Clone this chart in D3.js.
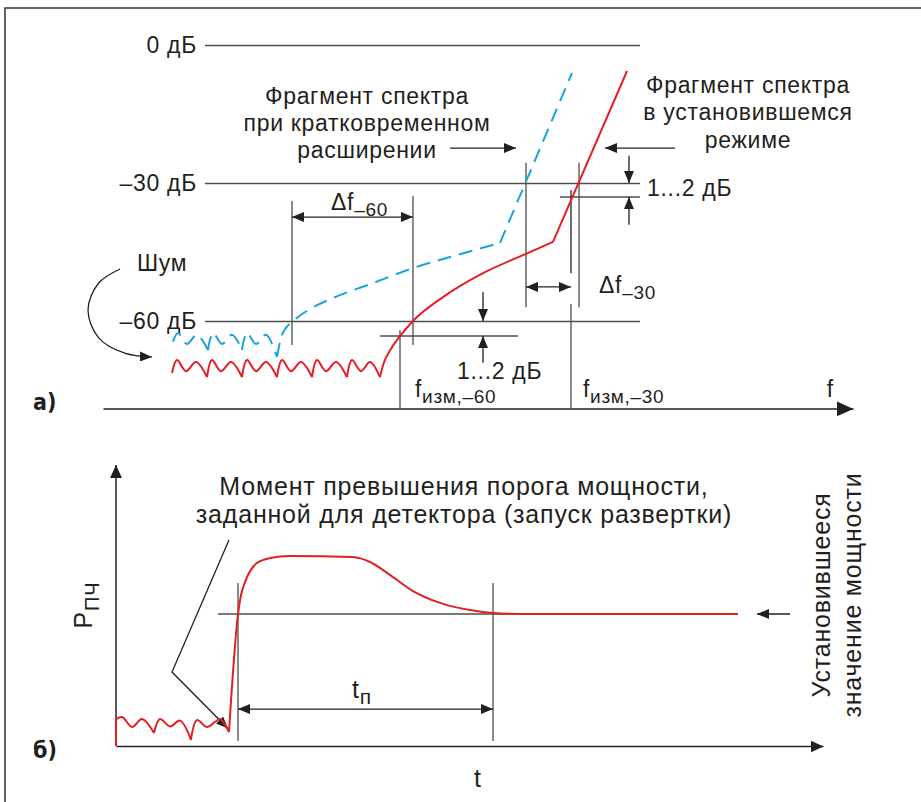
<!DOCTYPE html>
<html>
<head>
<meta charset="utf-8">
<script src="https://cdn.jsdelivr.net/npm/d3@7"></script>
<style>
  html, body { margin: 0; padding: 0; background: #fff; }
  svg { display: block; }
</style>
</head>
<body>
<script>
// ---- data: spectrum (a), units: f in arbitrary 0..100, level in dB ----
const dbLevels = [0, -30, -60];
const dbTickLabels = ['0 дБ', '–30 дБ', '–60 дБ'];

// steady-state spectrum: noise arches, smooth rise, steep slope
const redNoise = [
  [[9.2, -71.3], [9.87, -68.5], [11.07, -70.9], [12.4, -68.9], [13.87, -72.2]],
  [[13.87, -72.2], [14.53, -68.5], [15.73, -70.9], [17.07, -68.9], [18.53, -72.2]],
  [[18.53, -72.2], [19.2, -68.5], [20.4, -70.9], [21.73, -68.9], [23.2, -72.2]],
  [[23.2, -72.2], [23.87, -68.5], [25.07, -70.9], [26.4, -68.9], [27.87, -72.2]],
  [[27.87, -72.2], [28.53, -68.5], [29.73, -70.9], [31.07, -68.9], [32.53, -72.2]],
  [[32.53, -72.2], [33.2, -68.5], [34.4, -70.9], [35.6, -68.9], [36.93, -72.2]]
];
const redRise = [[36.93, -72.2], [37.4, -69.3], [38.3, -66.3], [39.6, -63.3], [41.33, -60],
  [45.33, -54.8], [50.67, -49.6], [56.4, -45.4], [60, -42.8]];
const redSlope = [[60, -42.8], [69.87, -5.65]];

// spectrum during short widening (dashed)
const blueNoise = [
  [[9.33, -64.5], [10, -62.6], [11.2, -65], [12.53, -63], [14, -66.3]],
  [[14, -66.3], [14.67, -62.6], [15.87, -65], [17.2, -63], [18.53, -66.3]],
  [[18.53, -66.3], [19.2, -62.6], [20.4, -65], [21.73, -63], [23.2, -67.8]]
];
const blueRise = [[23.2, -67.8], [23.73, -63.7], [24.4, -61.5], [25.2, -60.2], [27.6, -57.4],
  [30.67, -55], [35.6, -52], [41.33, -48.5], [46.27, -46.1], [52.93, -43.04]];
const blueSlope = [[52.93, -43.04], [62.53, -6.09]];

// ---- data: pulse (b), t 0..100, P with steady value 50 ----
const pulseNoise = [
  [[0, 0], [0, 10.2]],
  [[0, 10.2], [0.86, 11], [2.29, 7.2], [3.71, 10.2], [5.43, 4.9]],
  [[5.43, 4.9], [6.29, 10.2], [7.71, 7.4], [9.14, 9.6], [10.71, 2.3]],
  [[10.71, 2.3], [11.57, 9.8], [13, 7.2], [14.14, 9.1], [14.86, 10.2], [16.14, 5.3]]
];
const pulseResponse = [[16.14, 5.3], [17.43, 50], [17.86, 57.2], [18.43, 62.1], [20.14, 69.3],
  [22, 71.2], [24.86, 72], [33.86, 71.6], [36.29, 69.7], [39.14, 64.8], [42.43, 58.7],
  [46.29, 54.2], [50.57, 51.5], [53.86, 50.4], [59.14, 50], [88.86, 50]];
const steadyP = 50;

// ---- annotation text ----
const leftNote = ['Фрагмент спектра', 'при кратковременном', 'расширении'];
const rightNote = ['Фрагмент спектра', 'в установившемся', 'режиме'];
const triggerNote = ['Момент превышения порога мощности,', 'заданной для детектора (запуск развертки)'];
const steadyNote = ['Установившееся', 'значение мощности'];

const W = 921, H = 802;
const FONT = '"Liberation Sans", Arial, sans-serif';
const BOLD_FONT = '"Liberation Sans Narrow", "DejaVu Sans Condensed", sans-serif';
const INK = '#231f20', GUIDE = '#4d4d4d', RED = '#e31e24', BLUE = '#1ba3dd';
const SIZE_A = 23, SIZE_B = 25;

const svg = d3.select('body').append('svg')
    .attr('width', W)
    .attr('height', H)
    .attr('font-family', FONT)
    .attr('fill', INK);

const defs = svg.append('defs');
function marker(id, len, wid) {
  defs.append('marker')
      .attr('id', id)
      .attr('viewBox', '0 0 10 10')
      .attr('preserveAspectRatio', 'none')
      .attr('refX', 10).attr('refY', 5)
      .attr('markerUnits', 'userSpaceOnUse')
      .attr('markerWidth', len).attr('markerHeight', wid)
      .attr('orient', 'auto-start-reverse')
    .append('path')
      .attr('d', 'M0,0L10,5L0,10z')
      .attr('fill', INK);
}
marker('arr', 12, 10);
marker('arrMid', 13, 12);
marker('arrBig', 17, 15);

// frame
svg.append('path')
    .attr('d', `M5,${H}V8H${W}`)
    .attr('fill', 'none')
    .attr('stroke', '#333')
    .attr('stroke-width', 1.5);

function segPath(segs, sx, sy, curve) {
  const line = d3.line().x(d => sx(d[0])).y(d => sy(d[1])).curve(curve);
  return segs.map(s => line(s)).join('');
}

function seg(g, sx, sy, a, b, opts = {}) {
  const l = g.append('line')
      .attr('x1', sx(a[0])).attr('y1', sy(a[1]))
      .attr('x2', sx(b[0])).attr('y2', sy(b[1]))
      .attr('stroke', opts.stroke || GUIDE)
      .attr('stroke-width', opts.width || 1.3);
  if (opts.end) l.attr('marker-end', `url(#${opts.end})`);
  if (opts.start) l.attr('marker-start', `url(#${opts.start})`);
  return l;
}

function lines(g, x, y0, step, arr, size, anchor = 'middle') {
  g.append('text')
      .attr('font-size', size)
      .attr('text-anchor', anchor)
    .selectAll('tspan')
    .data(arr)
    .join('tspan')
      .attr('x', x)
      .attr('y', (d, i) => y0 + i * step)
      .text(d => d);
}

function sub(g, x, y, main, s, size, subSize, dy, anchor = 'start') {
  const t = g.append('text').attr('x', x).attr('y', y).attr('font-size', size).attr('text-anchor', anchor);
  t.append('tspan').text(main);
  t.append('tspan').attr('dy', dy).attr('font-size', subSize).text(s);
  return t;
}

// ======================= (a) spectrum =======================
const fx = d3.scaleLinear().domain([0, 100]).range([103, 853]);
const dbY = d3.scaleLinear().domain([0, -79]).range([45, 408.4]);
const gA = svg.append('g').attr('letter-spacing', 0.7);

const levelAxis = d3.axisLeft(dbY)
    .tickValues(dbLevels)
    .tickFormat((d, i) => dbTickLabels[i])
    .tickSizeInner(-(fx(71.6) - fx(13.6)))
    .tickSizeOuter(0)
    .tickPadding(8);

const gLev = gA.append('g')
    .attr('transform', `translate(${fx(13.6)},0)`)
    .call(levelAxis)
    .attr('font-family', FONT)
    .attr('font-size', SIZE_A);
gLev.select('.domain').remove();
gLev.selectAll('.tick line').attr('stroke', GUIDE).attr('stroke-width', 1.3);
gLev.selectAll('.tick text').attr('fill', INK).attr('dy', '0.34em');

// f axis
const fAxis = gA.append('g')
    .attr('transform', `translate(0,${dbY(-79)})`)
    .call(d3.axisBottom(fx).tickValues([]).tickSizeOuter(0));
fAxis.select('.domain')
    .attr('stroke', INK)
    .attr('stroke-width', 1.5)
    .attr('marker-end', 'url(#arrBig)');

// guide lines
seg(gA, fx, dbY, [60.93, -33.04], [71.6, -33.04]);
seg(gA, fx, dbY, [36.93, -63.26], [55.33, -63.26]);
seg(gA, fx, dbY, [25.2, -33.9], [25.2, -65.2]);
seg(gA, fx, dbY, [41.33, -32.8], [41.33, -65.2]);
seg(gA, fx, dbY, [39.6, -62], [39.6, -79]);
seg(gA, fx, dbY, [56.4, -25.6], [56.4, -57]);
seg(gA, fx, dbY, [63.47, -25.6], [63.47, -57]);
seg(gA, fx, dbY, [62.4, -31.5], [62.4, -49.6], { stroke: INK });
seg(gA, fx, dbY, [62.4, -56.3], [62.4, -79]);

// dimension arrows
seg(gA, fx, dbY, [25.2, -37.4], [41.33, -37.4], { stroke: INK, start: 'arr', end: 'arr' });
seg(gA, fx, dbY, [56.4, -52.6], [62.4, -52.6], { stroke: INK, start: 'arr', end: 'arr' });
seg(gA, fx, dbY, [70.13, -24.1], [70.13, -30], { stroke: INK, end: 'arr' });
seg(gA, fx, dbY, [70.13, -39.1], [70.13, -33.04], { stroke: INK, end: 'arr' });
seg(gA, fx, dbY, [50.67, -53.7], [50.67, -60], { stroke: INK, end: 'arr' });
seg(gA, fx, dbY, [50.67, -69.1], [50.67, -63.26], { stroke: INK, end: 'arr' });
seg(gA, fx, dbY, [46.27, -22.4], [55.07, -22.4], { stroke: INK, end: 'arr' });
seg(gA, fx, dbY, [76.27, -22.4], [66.93, -22.4], { stroke: INK, end: 'arr' });

// noise pointer
const noiseArrow = [[2.27, -48.7], [-0.6, -51.8], [-2, -57.6], [-0.6, -63.6], [2.9, -67], [6.53, -67.8]];
gA.append('path')
    .attr('d', d3.line().x(d => fx(d[0])).y(d => dbY(d[1])).curve(d3.curveCatmullRom)(noiseArrow))
    .attr('fill', 'none')
    .attr('stroke', INK)
    .attr('stroke-width', 1.3)
    .attr('marker-end', 'url(#arr)');

// spectra
gA.append('path')
    .attr('d', segPath(blueNoise, fx, dbY, d3.curveCatmullRom) +
               segPath([blueRise], fx, dbY, d3.curveMonotoneX) +
               segPath([blueSlope], fx, dbY, d3.curveLinear))
    .attr('fill', 'none')
    .attr('stroke', BLUE)
    .attr('stroke-width', 2)
    .attr('stroke-dasharray', '14,8');

gA.append('path')
    .attr('d', segPath(redNoise, fx, dbY, d3.curveCatmullRom) +
               segPath([redRise], fx, dbY, d3.curveMonotoneX) +
               segPath([redSlope], fx, dbY, d3.curveLinear))
    .attr('fill', 'none')
    .attr('stroke', RED)
    .attr('stroke-width', 2);

// texts (a)
lines(gA, fx(35.2), dbY(-12.8), 27, leftNote, SIZE_A);
lines(gA, fx(86), dbY(-10.4), 27.5, rightNote, SIZE_A);

gA.append('text').attr('x', fx(4.53)).attr('y', dbY(-49.1)).attr('font-size', SIZE_A).text('Шум');

sub(gA, fx(30.4), dbY(-35.9), 'Δf', '–60', SIZE_A, 19, 6);
sub(gA, fx(66.13), dbY(-53.9), 'Δf', '–30', SIZE_A, 19, 6);
sub(gA, fx(41.6), dbY(-76.5), 'f', 'изм,–60', SIZE_A, 19, 6);
sub(gA, fx(64), dbY(-76.5), 'f', 'изм,–30', SIZE_A, 19, 6);
gA.append('text').attr('x', fx(72.53)).attr('y', dbY(-32.8)).attr('font-size', SIZE_A).text('1...2 дБ');
gA.append('text').attr('x', fx(47.2)).attr('y', dbY(-72.6)).attr('font-size', SIZE_A).text('1...2 дБ');
gA.append('text').attr('x', fx(96.5)).attr('y', dbY(-76.5)).attr('font-size', SIZE_A).text('f');
gA.append('text').attr('x', 33).attr('y', dbY(-79.3))
    .attr('font-family', BOLD_FONT).attr('letter-spacing', 0)
    .attr('font-weight', 'bold').attr('font-size', 23).text('а)');

// ======================= (b) pulse =======================
const tx = d3.scaleLinear().domain([0, 100]).range([116, 816]);
const pY = d3.scaleLinear().domain([0, steadyP]).range([746, 614]);
const gB = svg.append('g').attr('letter-spacing', 0.8);

const tAxis = gB.append('g')
    .attr('transform', `translate(0,${pY(0)})`)
    .call(d3.axisBottom(tx.copy().domain([0, 101]).range([116, 823])).tickValues([]).tickSizeOuter(0));
tAxis.select('.domain').attr('stroke', INK).attr('stroke-width', 1.5).attr('marker-end', 'url(#arrMid)');

const pAxis = gB.append('g')
    .attr('transform', `translate(${tx(0)},0)`)
    .call(d3.axisLeft(pY.copy().domain([0, 106.4]).range([746, 465])).tickValues([]).tickSizeOuter(0));
pAxis.select('.domain').attr('stroke', INK).attr('stroke-width', 1.5).attr('marker-end', 'url(#arrMid)')
    .attr('d', `M0,${pY(0)}V465`);

seg(gB, tx, pY, [14.57, steadyP], [88.86, steadyP]);
seg(gB, tx, pY, [17.43, 61.7], [17.43, 1.9]);
seg(gB, tx, pY, [53.86, 61.7], [53.86, 1.9]);
seg(gB, tx, pY, [17.43, 14], [53.86, 14], { stroke: INK, start: 'arr', end: 'arr' });
seg(gB, tx, pY, [96.29, steadyP], [91.57, steadyP], { stroke: INK, end: 'arr' });

const pointer = [[16.14, 78], [8, 28], [16, 6.6]];
gB.append('path')
    .attr('d', d3.line().x(d => tx(d[0])).y(d => pY(d[1]))(pointer))
    .attr('fill', 'none')
    .attr('stroke', INK)
    .attr('stroke-width', 1.3)
    .attr('marker-end', 'url(#arr)');

gB.append('path')
    .attr('d', segPath(pulseNoise, tx, pY, d3.curveCatmullRom) +
               segPath([pulseResponse], tx, pY, d3.curveMonotoneX))
    .attr('fill', 'none')
    .attr('stroke', RED)
    .attr('stroke-width', 2);

lines(gB, tx(49.71), pY(95.1), 28, triggerNote, SIZE_B);
sub(gB, tx(35.14), pY(18.2), 't', 'п', SIZE_B, 21, 6, 'middle');
gB.append('text').attr('x', tx(51.71)).attr('y', pY(-15.5)).attr('font-size', SIZE_B).attr('text-anchor', 'middle').text('t');
gB.append('text').attr('x', 33).attr('y', pY(-4.5))
    .attr('font-family', BOLD_FONT).attr('letter-spacing', 0)
    .attr('font-weight', 'bold').attr('font-size', 23).text('б)');

// rotated labels
const pLab = gB.append('text')
    .attr('transform', `translate(${tx(-3.43)},${pY(53.4)}) rotate(-90)`)
    .attr('text-anchor', 'middle')
    .attr('font-size', SIZE_B);
pLab.append('tspan').text('P');
pLab.append('tspan').attr('dy', 7).attr('font-size', 20).text('ПЧ');

const sLab = gB.append('text')
    .attr('transform', `translate(${tx(102)},${pY(57.2)}) rotate(-90)`)
    .attr('text-anchor', 'middle')
    .attr('font-size', SIZE_B);
sLab.selectAll('tspan')
    .data(steadyNote)
    .join('tspan')
      .attr('x', 0)
      .attr('y', (d, i) => i * 31)
      .text(d => d);
</script>
</body>
</html>
